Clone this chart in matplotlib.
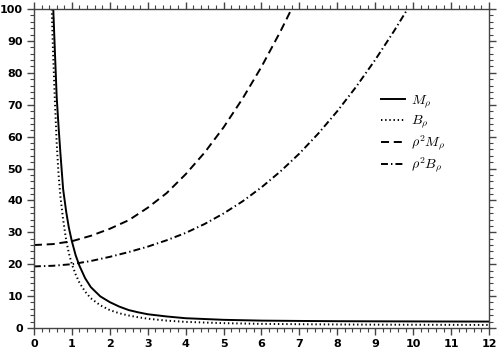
import matplotlib
matplotlib.use("Agg")
import matplotlib.pyplot as plt
from matplotlib.ticker import MultipleLocator

plt.rcParams['mathtext.fontset'] = 'cm'
plt.rcParams['lines.scale_dashes'] = False

# M_rho (solid)
rho_m = [0.51, 0.55, 0.6, 0.65, 0.7, 0.77, 0.85, 0.92, 1.0, 1.1, 1.2, 1.35, 1.5,
         1.75, 2.0, 2.25, 2.5, 2.75, 3.0, 3.5, 4.0, 5.0, 6.0, 7.0, 8.0, 9.0, 10.0,
         11.0, 12.0]
m_rho = [100, 87.5, 72.5, 63, 54.5, 43.5, 36.5, 31.5, 27.2, 22.8, 19.5, 15.6, 12.8,
         9.9, 8.1, 6.7, 5.6, 4.9, 4.3, 3.6, 3.05, 2.55, 2.3, 2.2, 2.12, 2.08, 2.05,
         2.02, 2.0]

# B_rho (dotted)
rho_b = [0.47, 0.5, 0.55, 0.6, 0.65, 0.7, 0.77, 0.85, 0.92, 1.0, 1.1, 1.2, 1.35, 1.5,
         1.75, 2.0, 2.25, 2.5, 2.75, 3.0, 3.5, 4.0, 5.0, 6.0, 7.0, 8.0, 9.0, 10.0,
         11.0, 12.0]
b_rho = [100, 88, 72, 58, 48, 41, 34, 27.5, 23.5, 20, 16.8, 14.2, 11.4, 9.3,
         7.1, 5.6, 4.6, 3.9, 3.35, 2.9, 2.3, 1.9, 1.5, 1.28, 1.17, 1.09, 1.03, 1.0,
         0.97, 0.94]

# rho^2 M_rho (dashed)
rho_r2m = [0, 0.5, 1.0, 1.5, 2.0, 2.5, 3.0, 3.5, 4.0, 4.5, 5.0, 5.5, 6.0, 6.5, 6.8, 6.9]
r2m = [26, 26.3, 27.2, 28.9, 31.1, 33.8, 37.7, 42.3, 48.2, 55.0, 62.9, 71.9, 81.9,
       93.0, 100.2, 102.6]

# rho^2 B_rho (dash-dot)
rho_r2b = [0, 0.5, 1.0, 1.5, 2.0, 2.5, 3.0, 3.5, 4.0, 4.5, 5.0, 5.5, 6.0, 6.5, 7.0,
           7.5, 8.0, 8.5, 9.0, 9.5, 9.85, 10.0]
r2b = [19.3, 19.5, 20, 21.0, 22.3, 23.8, 25.5, 27.5, 29.8, 32.6, 35.9, 39.7, 44.1,
       49.1, 54.7, 61, 68, 75.7, 84.1, 93.2, 100, 103]

fig = plt.figure(figsize=(4.99, 3.5), dpi=100)
ax = fig.add_axes([0.068, 0.063, 0.912, 0.911])

ax.plot(rho_m, m_rho, color='black', lw=1.4, label=r'$M_\rho$')
ax.plot(rho_b, b_rho, color='black', lw=1.4, dashes=(1.0, 2.0), label=r'$B_\rho$')
ax.plot(rho_r2m, r2m, color='black', lw=1.4, dashes=(5.8, 3.4), label=r'$\rho^2M_\rho$')
ax.plot(rho_r2b, r2b, color='black', lw=1.4, dashes=(5.0, 2.2, 1.0, 2.2),
        label=r'$\rho^2B_\rho$')

ax.set_xlim(0, 12)
ax.set_ylim(0, 100)
ax.xaxis.set_major_locator(MultipleLocator(1))
ax.xaxis.set_minor_locator(MultipleLocator(0.2))
ax.yaxis.set_major_locator(MultipleLocator(10))
ax.yaxis.set_minor_locator(MultipleLocator(2))
ax.tick_params(which='both', direction='out', top=True, right=True,
               labeltop=False, labelright=False, color='#444444')
ax.tick_params(which='major', length=5, width=1, labelsize=8, pad=3)
ax.tick_params(which='minor', length=3, width=0.8)
for lab in ax.get_xticklabels() + ax.get_yticklabels():
    lab.set_fontweight('bold')
for sp in ax.spines.values():
    sp.set_color('#444444')
    sp.set_linewidth(1)

ax.legend(loc='upper left', bbox_to_anchor=(0.735, 0.775), frameon=False,
          fontsize=10, handlelength=1.7, handletextpad=0.5, labelspacing=0.22)

fig.savefig('out.png', dpi=100)
